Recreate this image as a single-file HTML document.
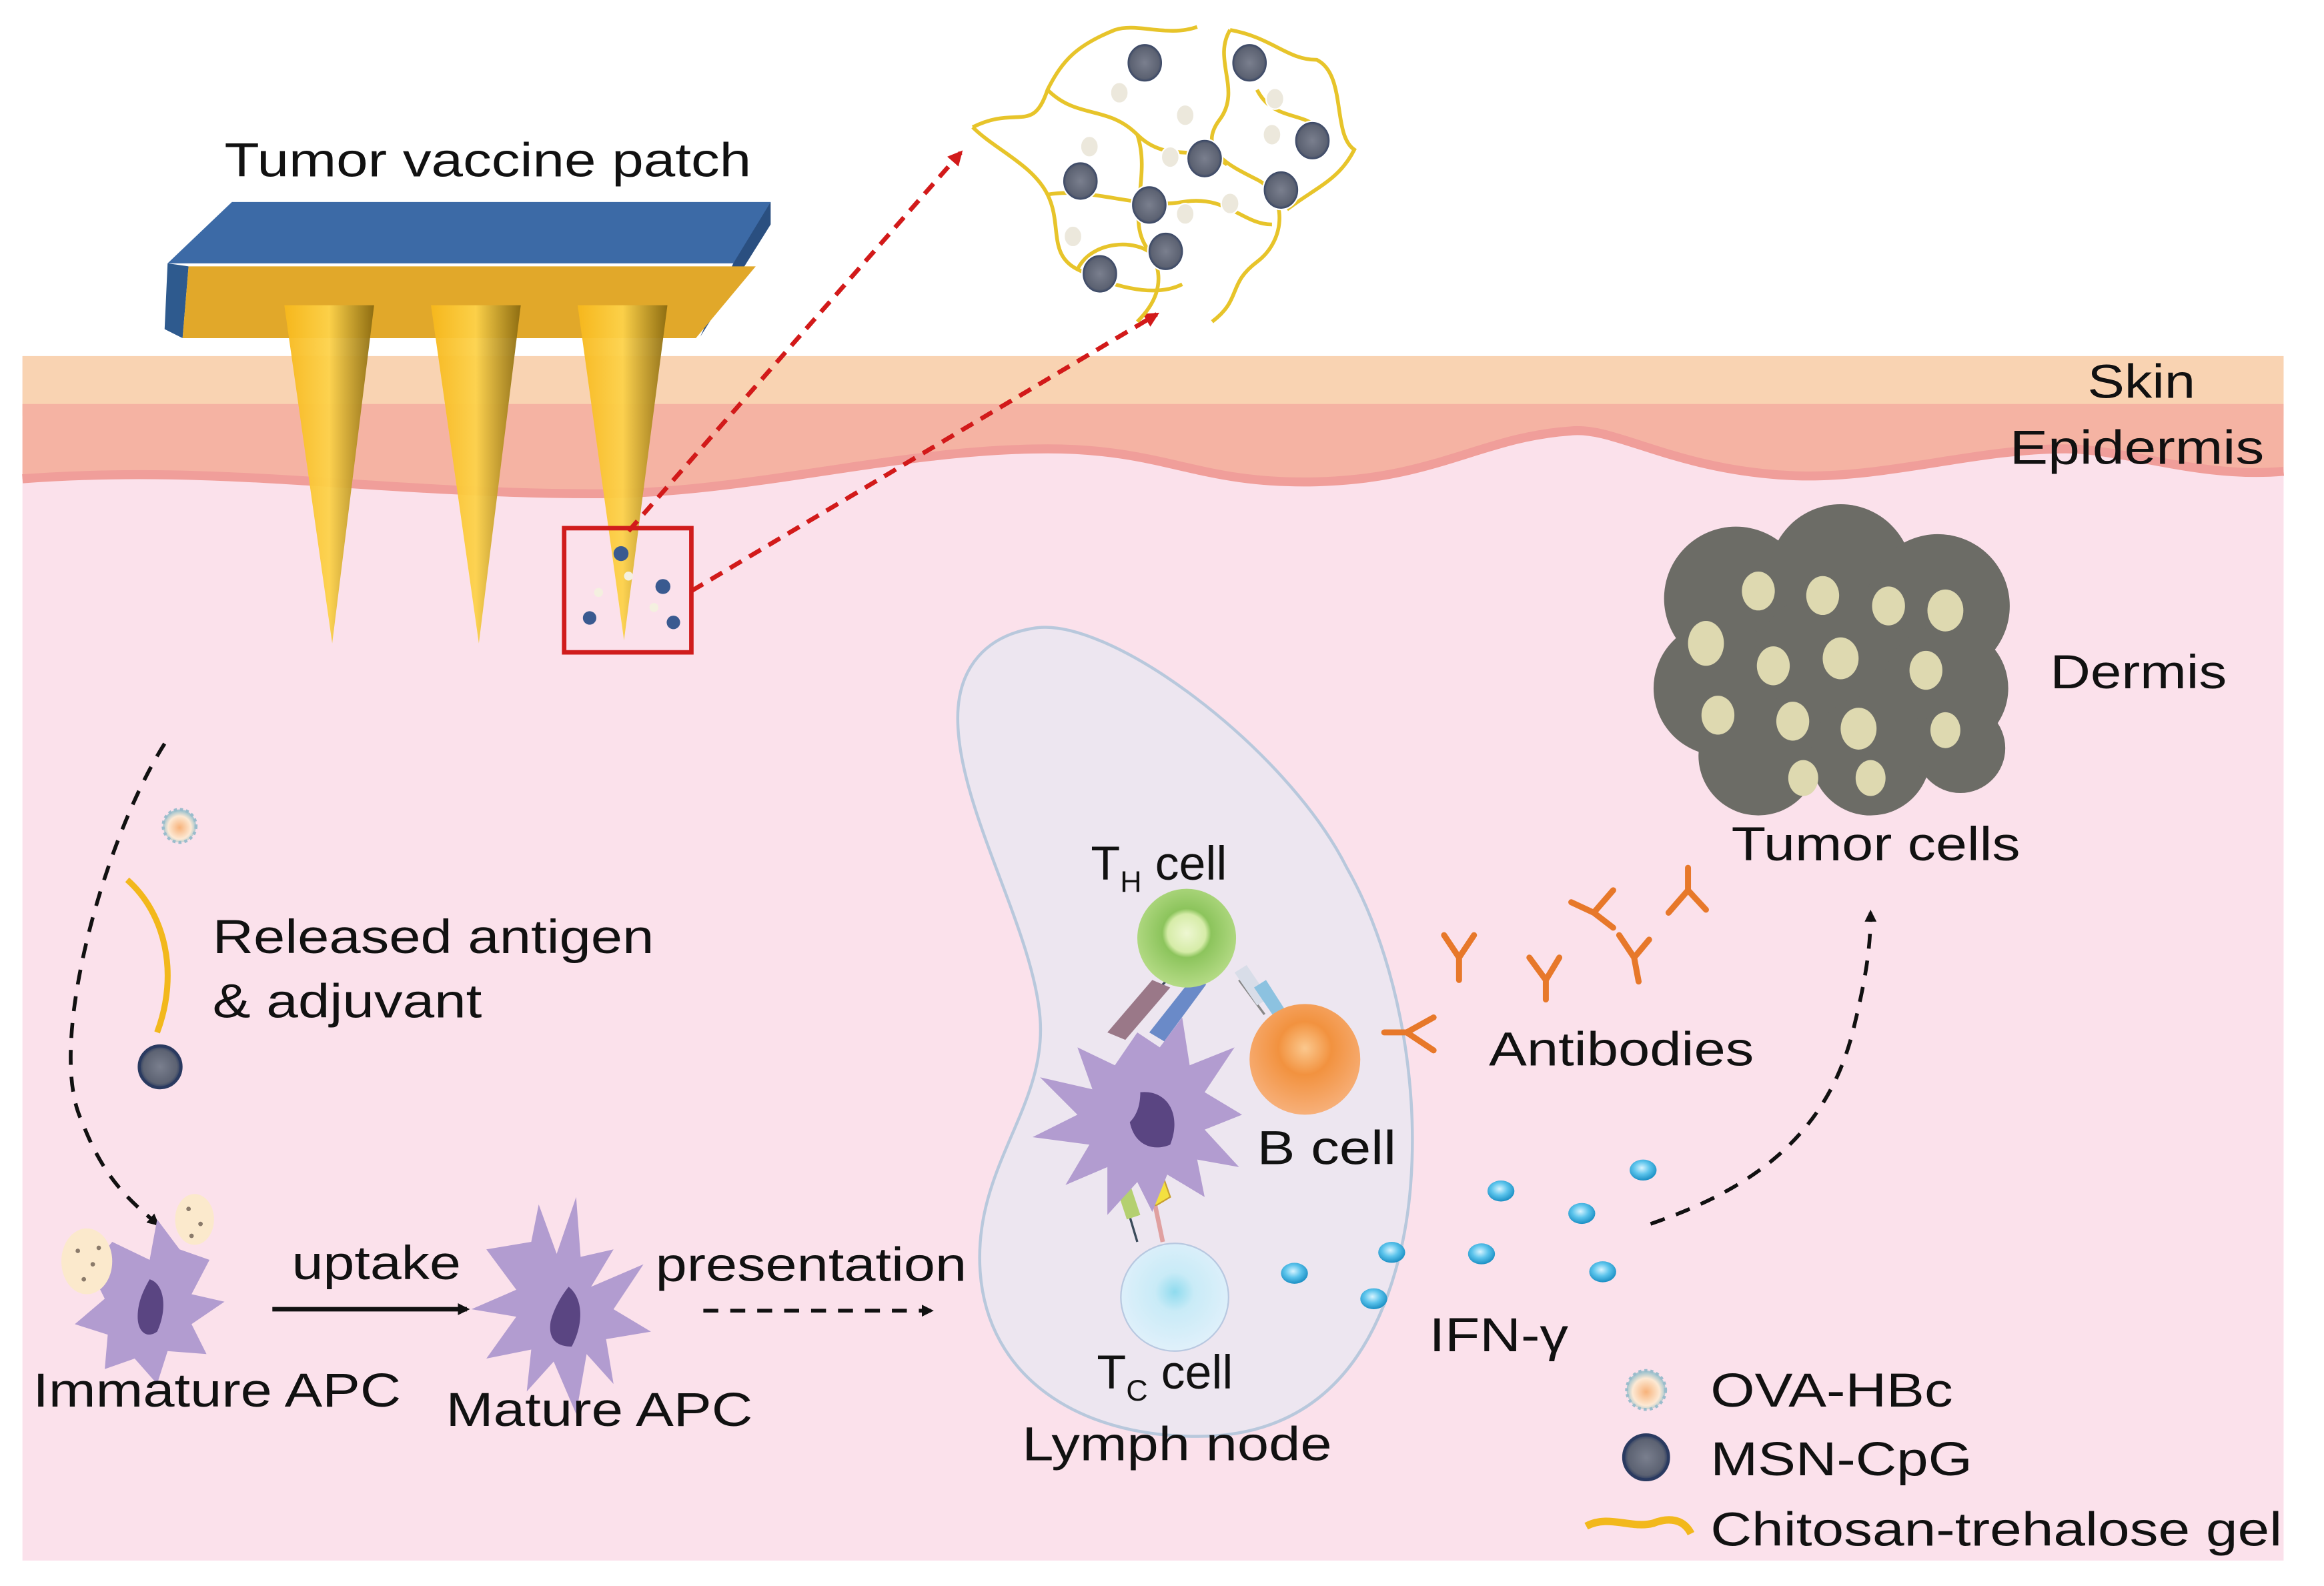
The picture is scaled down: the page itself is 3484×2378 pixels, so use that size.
<!DOCTYPE html>
<html><head><meta charset="utf-8"><style>
html,body{margin:0;padding:0;background:#fff;}
svg{display:block;}
text{font-family:"Liberation Sans",sans-serif;fill:#111;}
</style></head><body>
<svg width="3484" height="2378" viewBox="0 0 1553 1060" preserveAspectRatio="none" xmlns="http://www.w3.org/2000/svg">
<defs>
<radialGradient id="gB" cx="45%" cy="40%" r="60%"><stop offset="0" stop-color="#d8f4ff"/><stop offset="0.5" stop-color="#5cc4ec"/><stop offset="1" stop-color="#1b8fc4"/></radialGradient>
<radialGradient id="gTH" cx="50%" cy="45%" r="55%"><stop offset="0" stop-color="#eef7d2"/><stop offset="0.35" stop-color="#d6eca8"/><stop offset="0.45" stop-color="#8cc45c"/><stop offset="1" stop-color="#b5db86"/></radialGradient>
<radialGradient id="gBc" cx="50%" cy="40%" r="60%"><stop offset="0" stop-color="#fbc88e"/><stop offset="0.4" stop-color="#f2923f"/><stop offset="1" stop-color="#f7b07a"/></radialGradient>
<radialGradient id="gTC" cx="50%" cy="45%" r="60%"><stop offset="0" stop-color="#8fdbee"/><stop offset="0.3" stop-color="#c9ebf7"/><stop offset="1" stop-color="#e3f1fb"/></radialGradient>
<radialGradient id="gM" cx="50%" cy="50%" r="50%"><stop offset="0" stop-color="#7a7f8e"/><stop offset="0.8" stop-color="#5c6272"/><stop offset="1" stop-color="#2c3c60"/></radialGradient>
<radialGradient id="gO" cx="50%" cy="55%" r="50%"><stop offset="0" stop-color="#f7b27a"/><stop offset="0.7" stop-color="#fde9d4"/><stop offset="1" stop-color="#a6c6cf"/></radialGradient>
<linearGradient id="gN" x1="0" x2="1"><stop offset="0" stop-color="#f7b81c"/><stop offset="0.5" stop-color="#fdd24a"/><stop offset="1" stop-color="#8a6a10"/></linearGradient>
<marker id="ab" markerWidth="8" markerHeight="8" refX="6" refY="4" orient="auto" markerUnits="userSpaceOnUse"><path d="M0,0 L8,4 L0,8 z" fill="#111"/></marker>
<marker id="ar" markerWidth="10" markerHeight="10" refX="8" refY="5" orient="auto" markerUnits="userSpaceOnUse"><path d="M0,0 L10,5 L0,10 z" fill="#d21a1a"/></marker>
</defs>
<rect x="15" y="238" width="1511" height="805" fill="#fbe1eb"/>
<rect x="15" y="238" width="1511" height="40" fill="#f9d3b2"/>
<path d="M15,270 L1526,270 L1526,315 C1470,320 1420,300 1380,300 C1320,300 1260,320 1200,318 C1120,315 1080,285 1050,288 C990,292 960,320 880,322 C800,324 780,300 700,300 C600,300 500,330 400,330 C250,330 150,310 15,320 Z" fill="#f5b3a3"/>
<path d="M15,320 C150,310 250,330 400,330 C500,330 600,300 700,300 C780,300 800,324 880,322 C960,320 990,292 1050,288 C1080,285 1120,315 1200,318 C1260,320 1320,300 1380,300 C1420,300 1470,320 1526,315" fill="none" stroke="#f09e9a" stroke-width="6"/>
<!-- patch -->
<polygon points="155,135 515,135 508,150 490,176 112,176" fill="#3c6aa6"/>
<polygon points="515,135 515,150 468,225 490,176" fill="#2a4f80"/>
<polygon points="112,176 126,178 122,226 110,220" fill="#2e5a8e"/>
<polygon points="126,178 505,178 465,226 122,226" fill="#e1a82a"/>
<!-- needles -->
<polygon points="190,204 250,204 222,430" fill="url(#gN)" opacity="0.95"/>
<polygon points="288,204 348,204 320,430" fill="url(#gN)" opacity="0.95"/>
<polygon points="386,204 446,204 417,428" fill="url(#gN)" opacity="0.95"/>
<rect x="377" y="353" width="85" height="83" fill="none" stroke="#d01c1c" stroke-width="3"/>
<circle cx="415" cy="370" r="5" fill="#3a5a90"/><circle cx="443" cy="392" r="5" fill="#3a5a90"/><circle cx="394" cy="413" r="4.5" fill="#3a5a90"/><circle cx="450" cy="416" r="4.5" fill="#3a5a90"/><circle cx="400" cy="396" r="3" fill="#f4f0e0"/><circle cx="437" cy="406" r="3" fill="#f4f0e0"/><circle cx="420" cy="385" r="3" fill="#f4f0e0"/>
<line x1="420" y1="355" x2="642" y2="102" stroke="#d21a1a" stroke-width="3" stroke-dasharray="9,6" marker-end="url(#ar)"/>
<line x1="462" y1="395" x2="773" y2="210" stroke="#d21a1a" stroke-width="3" stroke-dasharray="9,6" marker-end="url(#ar)"/>
<g fill="none" stroke="#e7c42a" stroke-width="2.5">
<path d="M650,85 C680,70 690,90 700,60 C710,40 720,30 745,20 C760,15 780,25 800,18"/>
<path d="M700,60 C720,80 740,70 760,90 C780,110 800,95 820,110"/>
<path d="M822,20 C810,40 830,60 815,80 C800,100 820,110 840,120 C860,130 860,160 840,175 C820,190 830,200 810,215"/>
<path d="M822,20 C850,25 860,40 880,40 C900,50 890,90 905,100 C895,120 880,125 860,140"/>
<path d="M650,85 C665,100 690,110 700,130 C710,150 700,170 720,180 C740,190 770,200 790,190"/>
<path d="M700,130 C730,125 760,140 790,135 C820,130 830,150 850,150"/>
<path d="M720,180 C730,160 760,160 770,170"/>
<path d="M760,90 C770,120 750,150 770,170 C780,190 770,205 760,215"/>
<path d="M840,60 C850,80 870,75 880,85"/>
</g>
<g stroke="#fff" stroke-width="1">
<ellipse cx="765" cy="42" rx="12" ry="13" fill="url(#gM)"/><ellipse cx="835" cy="42" rx="12" ry="13" fill="url(#gM)"/>
<ellipse cx="805" cy="106" rx="12" ry="13" fill="url(#gM)"/><ellipse cx="877" cy="94" rx="12" ry="13" fill="url(#gM)"/>
<ellipse cx="722" cy="121" rx="12" ry="13" fill="url(#gM)"/><ellipse cx="768" cy="137" rx="12" ry="13" fill="url(#gM)"/>
<ellipse cx="856" cy="127" rx="12" ry="13" fill="url(#gM)"/><ellipse cx="735" cy="183" rx="12" ry="13" fill="url(#gM)"/>
<ellipse cx="779" cy="168" rx="12" ry="13" fill="url(#gM)"/>
<ellipse cx="748" cy="62" rx="6" ry="7" fill="#ece8dc"/><ellipse cx="852" cy="66" rx="6" ry="7" fill="#ece8dc"/><ellipse cx="792" cy="77" rx="6" ry="7" fill="#ece8dc"/><ellipse cx="728" cy="98" rx="6" ry="7" fill="#ece8dc"/><ellipse cx="782" cy="105" rx="6" ry="7" fill="#ece8dc"/><ellipse cx="850" cy="90" rx="6" ry="7" fill="#ece8dc"/><ellipse cx="822" cy="136" rx="6" ry="7" fill="#ece8dc"/><ellipse cx="792" cy="143" rx="6" ry="7" fill="#ece8dc"/><ellipse cx="717" cy="158" rx="6" ry="7" fill="#ece8dc"/>
</g>
<g fill="#6c6c66">
<circle cx="1160" cy="400" r="48"/><circle cx="1230" cy="385" r="48"/><circle cx="1295" cy="405" r="48"/><circle cx="1150" cy="460" r="45"/><circle cx="1225" cy="450" r="55"/><circle cx="1300" cy="460" r="42"/><circle cx="1175" cy="505" r="40"/><circle cx="1250" cy="505" r="40"/><circle cx="1310" cy="500" r="30"/>
</g>
<g fill="#ded9b0">
<ellipse cx="1140" cy="430" rx="12" ry="15"/><ellipse cx="1175" cy="395" rx="11" ry="13"/><ellipse cx="1218" cy="398" rx="11" ry="13"/><ellipse cx="1262" cy="405" rx="11" ry="13"/><ellipse cx="1300" cy="408" rx="12" ry="14"/><ellipse cx="1185" cy="445" rx="11" ry="13"/><ellipse cx="1230" cy="440" rx="12" ry="14"/><ellipse cx="1287" cy="448" rx="11" ry="13"/><ellipse cx="1148" cy="478" rx="11" ry="13"/><ellipse cx="1198" cy="482" rx="11" ry="13"/><ellipse cx="1242" cy="487" rx="12" ry="14"/><ellipse cx="1300" cy="488" rx="10" ry="12"/><ellipse cx="1205" cy="520" rx="10" ry="12"/><ellipse cx="1250" cy="520" rx="10" ry="12"/>
</g>
<path d="M690,420 C740,410 860,500 900,580 C940,650 955,760 935,840 C915,920 870,960 800,960 C720,960 660,920 655,850 C650,780 700,740 695,680 C690,620 640,540 640,480 C640,445 660,425 690,420 Z" fill="#ede6f0" stroke="#b8c8dc" stroke-width="2"/>
<g stroke-width="1.5">
<path d="M755,680 L790,645" stroke="#3a4a5a" fill="none"/><path d="M740,690 L770,655 L782,660 L752,695 Z" fill="#9a7888"/><path d="M768,690 L798,652 L806,658 L778,696 Z" fill="#6a8ac8"/>
<path d="M828,655 L845,678" stroke="#888" fill="none"/><path d="M825,650 L840,672 L848,667 L833,645 Z" fill="#d8dde8"/><path d="M838,660 L855,685 L862,680 L846,655 Z" fill="#8cc2e0"/>
<path d="M748,790 L760,830" stroke="#3a4a5a"/><path d="M743,785 L753,815 L762,812 L752,782 Z" fill="#b4d070"/><path d="M765,788 L775,780 L782,800 L772,806 Z" fill="#f4e040" stroke="#c8a030" stroke-width="1"/><path d="M772,806 L777,830" stroke="#e0a0a0" stroke-width="3"/>
</g>
<g fill="#b29cd0">
<polygon points="760,690 775,700 790,680 795,712 825,700 805,730 830,745 805,755 828,780 800,775 805,800 780,785 770,810 760,790 740,812 740,780 712,792 728,765 690,760 720,745 695,720 730,728 720,700 745,712"/>
</g>
<path d="M762,730 C780,728 790,745 782,765 C770,770 758,765 755,750 C760,745 762,738 762,730 Z" fill="#5a4582"/>
<circle cx="793" cy="627" r="33" fill="url(#gTH)"/>
<circle cx="872" cy="708" r="37" fill="url(#gBc)"/>
<circle cx="785" cy="867" r="36" fill="url(#gTC)" stroke="#b8c8e0" stroke-width="1"/>
<g fill="none" stroke="#e7782a" stroke-width="4" stroke-linecap="round">
<path d="M965,625 L975,640 L985,625 M975,640 L975,655"/>
<path d="M1022,640 L1033,655 L1042,640 M1033,655 L1033,668"/>
<path d="M1082,625 L1092,640 L1102,628 M1092,640 L1095,656"/>
<path d="M1050,603 L1065,610 L1078,595 M1065,610 L1078,620"/>
<path d="M1115,610 L1128,595 L1140,608 M1128,595 L1128,580"/>
<path d="M958,680 L940,690 L958,702 M940,690 L925,690"/>
</g>
<g fill="url(#gB)">
<ellipse cx="865" cy="851" rx="9" ry="7"/><ellipse cx="930" cy="837" rx="9" ry="7"/><ellipse cx="918" cy="868" rx="9" ry="7"/><ellipse cx="990" cy="838" rx="9" ry="7"/><ellipse cx="1003" cy="796" rx="9" ry="7"/><ellipse cx="1057" cy="811" rx="9" ry="7"/><ellipse cx="1071" cy="850" rx="9" ry="7"/><ellipse cx="1098" cy="782" rx="9" ry="7"/>
</g>
<path d="M110,497 C70,560 30,700 55,750 C70,790 90,805 105,818" fill="none" stroke="#111" stroke-width="2.5" stroke-dasharray="10,8" marker-end="url(#ab)"/>
<path d="M1103,818 C1170,795 1220,760 1238,690 C1248,650 1250,630 1250,610" fill="none" stroke="#111" stroke-width="2.5" stroke-dasharray="10,8" marker-end="url(#ab)"/>
<line x1="470" y1="876" x2="622" y2="876" stroke="#111" stroke-width="2.5" stroke-dasharray="10,8" marker-end="url(#ab)"/>
<line x1="182" y1="875" x2="312" y2="875" stroke="#111" stroke-width="3" marker-end="url(#ab)"/>
<circle cx="120" cy="552" r="11" fill="url(#gO)" stroke="#9abccc" stroke-width="2" stroke-dasharray="2,2"/>
<path d="M85,588 C110,610 120,650 105,690" fill="none" stroke="#f2b81c" stroke-width="4"/>
<circle cx="107" cy="713" r="14" fill="url(#gM)" stroke="#2a3a60" stroke-width="2"/>
<polygon points="75,830 100,842 105,815 120,835 140,842 128,865 150,870 128,885 138,905 112,903 105,925 90,908 70,915 72,892 50,885 70,868 60,848" fill="#b29cd0"/>
<path d="M100,855 C110,858 112,875 105,890 C98,895 92,890 92,880 C92,870 96,862 100,855 Z" fill="#5a4582"/>
<ellipse cx="58" cy="843" rx="17" ry="22" fill="#fbe9cc"/><ellipse cx="130" cy="815" rx="13" ry="17" fill="#fbe9cc"/>
<g fill="#8a7a6a"><circle cx="52" cy="836" r="1.5"/><circle cx="62" cy="845" r="1.5"/><circle cx="56" cy="855" r="1.5"/><circle cx="66" cy="834" r="1.5"/><circle cx="126" cy="808" r="1.5"/><circle cx="134" cy="818" r="1.5"/><circle cx="128" cy="826" r="1.5"/></g>
<polygon points="355,830 360,805 372,838 385,800 388,840 410,835 395,860 430,845 410,875 435,890 405,895 410,925 392,905 385,945 370,910 352,930 355,902 325,908 345,880 315,875 345,862 325,835" fill="#b29cd0"/>
<path d="M380,860 C390,868 390,885 382,900 C372,900 366,895 368,883 C370,875 375,866 380,860 Z" fill="#5a4582"/>
<g font-size="32">
<text x="150" y="118" textLength="352" lengthAdjust="spacingAndGlyphs">Tumor vaccine patch</text>
<text x="1395" y="266" textLength="72" lengthAdjust="spacingAndGlyphs">Skin</text>
<text x="1343" y="310" textLength="170" lengthAdjust="spacingAndGlyphs">Epidermis</text>
<text x="1370" y="460" textLength="118" lengthAdjust="spacingAndGlyphs">Dermis</text>
<text x="1157" y="575" textLength="193" lengthAdjust="spacingAndGlyphs">Tumor cells</text>
<text x="142" y="637" textLength="295" lengthAdjust="spacingAndGlyphs">Released antigen</text>
<text x="142" y="680" textLength="180" lengthAdjust="spacingAndGlyphs">&amp; adjuvant</text>
<text x="729" y="588">T<tspan font-size="20" dy="8">H</tspan><tspan dy="-8"> cell</tspan></text>
<text x="840" y="778" textLength="93" lengthAdjust="spacingAndGlyphs">B cell</text>
<text x="995" y="712" textLength="177" lengthAdjust="spacingAndGlyphs">Antibodies</text>
<text x="195" y="855" textLength="113" lengthAdjust="spacingAndGlyphs">uptake</text>
<text x="438" y="856" textLength="208" lengthAdjust="spacingAndGlyphs">presentation</text>
<text x="22" y="940" textLength="246" lengthAdjust="spacingAndGlyphs">Immature APC</text>
<text x="298" y="953" textLength="205" lengthAdjust="spacingAndGlyphs">Mature APC</text>
<text x="733" y="928">T<tspan font-size="20" dy="8">C</tspan><tspan dy="-8"> cell</tspan></text>
<text x="683" y="976" textLength="207" lengthAdjust="spacingAndGlyphs">Lymph node</text>
<text x="955" y="903" textLength="93" lengthAdjust="spacingAndGlyphs">IFN-γ</text>
<text x="1143" y="940" textLength="162" lengthAdjust="spacingAndGlyphs">OVA-HBc</text>
<text x="1143" y="986" textLength="175" lengthAdjust="spacingAndGlyphs">MSN-CpG</text>
<text x="1143" y="1033" textLength="382" lengthAdjust="spacingAndGlyphs">Chitosan-trehalose gel</text>
</g>
<circle cx="1100" cy="929" r="13" fill="url(#gO)" stroke="#9abccc" stroke-width="2" stroke-dasharray="2,2"/>
<circle cx="1100" cy="974" r="15" fill="url(#gM)" stroke="#2a3a60" stroke-width="2"/>
<path d="M1060,1020 C1075,1012 1090,1022 1105,1018 C1115,1014 1125,1015 1130,1025" fill="none" stroke="#f2b81c" stroke-width="5"/>
</svg>
</body></html>
